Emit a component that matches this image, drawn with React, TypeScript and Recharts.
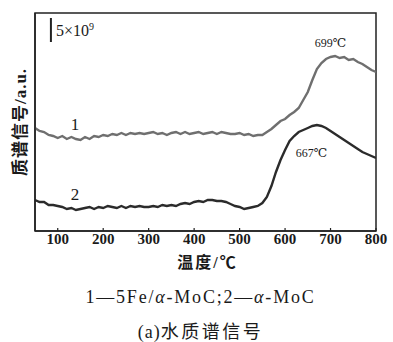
import React from "react"
import { LineChart, Line, XAxis, YAxis, ReferenceArea, ReferenceLine, ReferenceDot } from "recharts"

// temperature grid, °C
const temps = [
  50, 60, 70, 80, 90, 100, 110, 120, 130, 140, 150, 160, 170, 180, 190, 200, 210, 220, 230, 240,
  250, 260, 270, 280, 290, 300, 310, 320, 330, 340, 350, 360, 370, 380, 390, 400, 410, 420, 430, 440,
  450, 460, 470, 480, 490, 500, 510, 520, 530, 540, 550, 560, 570, 580, 590, 600, 610, 620, 630, 640,
  650, 660, 670, 680, 690, 700, 710, 720, 730, 740, 750, 760, 770, 780, 790, 800,
]

// curve 1: 5Fe/α-MoC (a.u.)
const fe = [
  103, 100, 99, 96, 95, 93, 95, 92, 94, 92, 91, 94, 92, 95, 94, 96, 95, 97, 96, 98,
  96, 98, 97, 98, 97, 98, 99, 97, 98, 96, 98, 99, 97, 99, 97, 98, 99, 97, 98, 99,
  97, 99, 98, 97, 97, 98, 96, 97, 95, 96, 96, 99, 102, 106, 110, 112, 116, 119, 123, 131,
  139, 151, 162, 168, 172, 174, 175, 173, 174, 171, 172, 169, 167, 164, 161, 159,
]

// curve 2: α-MoC (a.u.)
const moc = [
  31, 29, 29, 26, 26, 25, 24, 22, 23, 21, 22, 23, 24, 22, 24, 23, 25, 24, 23, 25,
  23, 25, 24, 25, 24, 24, 25, 24, 26, 25, 26, 25, 27, 28, 27, 29, 30, 29, 31, 31,
  30, 30, 29, 27, 25, 24, 22, 23, 24, 25, 28, 34, 45, 59, 71, 81, 90, 95, 99, 101,
  103, 105, 106, 105, 103, 100, 97, 94, 91, 88, 85, 82, 79, 77, 75, 73,
]

const xTicks = [100, 200, 300, 400, 500, 600, 700, 800]

const data = temps.map((t, i) => ({ t, fe: fe[i], moc: moc[i] }))

const serif = "'Liberation Serif', 'DejaVu Serif', serif"
const cjk = "'Liberation Serif', 'Noto Sans CJK SC', serif"

const XTick = ({ x, y, payload }: any) => (
  <g>
    <line x1={x} x2={x} y1={y} y2={y - 3} stroke="#222" strokeWidth={1.2} />
    <text x={x} y={y + 13} textAnchor="middle" fontFamily={serif} fontSize={15} fontWeight={600} fill="#1a1a1a">
      {payload.value}
    </text>
  </g>
)

const XTitle = ({ viewBox }: any) => {
  const cx = viewBox.x + viewBox.width / 2
  const y = viewBox.y
  return (
    <g>
      <text x={cx + 2} y={y + 37} textAnchor="middle" fontFamily={cjk} fontSize={16} fontWeight={700} letterSpacing={2} fill="#1a1a1a">
        温度/℃
      </text>
      <text x={cx - 5} y={y + 72} textAnchor="middle" fontFamily={cjk} fontSize={18} letterSpacing={1.8} fill="#1a1a1a">
        1—5Fe/<tspan fontStyle="italic">α</tspan>-MoC;2—<tspan fontStyle="italic">α</tspan>-MoC
      </text>
      <text x={cx - 5} y={y + 107} textAnchor="middle" fontFamily={cjk} fontSize={18} fill="#1a1a1a">
        <tspan letterSpacing={1}>(a)</tspan>
        <tspan letterSpacing={2.5}>水质谱信号</tspan>
      </text>
    </g>
  )
}

const YTitle = ({ viewBox }: any) => {
  const x = viewBox.x + 20
  const y = viewBox.y + viewBox.height / 2
  return (
    <text
      x={x}
      y={y}
      transform={`rotate(-90 ${x} ${y})`}
      textAnchor="middle"
      dominantBaseline="central"
      fontFamily={cjk}
      fontSize={17}
      fontWeight={700}
      letterSpacing={1}
      fill="#1a1a1a"
    >
      质谱信号/a.u.
    </text>
  )
}

const note = (txt: string, size: number, anchor: "start" | "middle" = "middle") => (props: any) => {
  const vb = props.viewBox
  const x = vb.cx ?? vb.x + (vb.width || 0) / 2
  const y = vb.cy ?? vb.y + (vb.height || 0) / 2
  return (
    <text x={x} y={y} textAnchor={anchor} fontFamily={serif} fontSize={size} fill="#1a1a1a">
      {txt}
    </text>
  )
}

const ScaleText = (props: any) => {
  const vb = props.viewBox
  const x = vb.cx ?? vb.x + (vb.width || 0) / 2
  const y = vb.cy ?? vb.y + (vb.height || 0) / 2
  return (
    <text x={x} y={y} fontFamily={serif} fontSize={16} fill="#1a1a1a">
      5×10<tspan dy={-6} fontSize={10}>9</tspan>
    </text>
  )
}

export default function App() {
  return (
    <div style={{ position: "absolute", left: 0, top: 0, width: 393, height: 342, background: "#fff" }}>
      <LineChart width={393} height={342} data={data} margin={{ top: 13, right: 17, bottom: 0, left: 0 }}>
        <XAxis
          dataKey="t"
          type="number"
          domain={[50, 800]}
          ticks={xTicks}
          allowDataOverflow
          tickSize={0}
          tickMargin={0}
          tickLine={false}
          tick={<XTick />}
          axisLine={{ stroke: "#222", strokeWidth: 1.5 }}
          height={111}
          label={<XTitle />}
        />
        <YAxis
          type="number"
          domain={[0, 218]}
          width={35}
          tick={false}
          tickLine={false}
          axisLine={{ stroke: "#222", strokeWidth: 1.5 }}
          label={<YTitle />}
        />
        <ReferenceArea x1={50} x2={800} y1={0} y2={218} fill="none" stroke="#222" strokeWidth={1.5} />
        <Line dataKey="fe" stroke="#6f6f6f" strokeWidth={2.4} dot={false} isAnimationActive={false} />
        <Line dataKey="moc" stroke="#2b2b2b" strokeWidth={2.4} dot={false} isAnimationActive={false} />
        <ReferenceLine segment={[{ x: 85, y: 189 }, { x: 85, y: 213 }]} stroke="#222" strokeWidth={2} />
        <ReferenceDot x={96} y={195} r={0} stroke="none" label={<ScaleText />} />
        <ReferenceDot x={138} y={101} r={0} stroke="none" label={note("1", 17)} />
        <ReferenceDot x={138} y={31} r={0} stroke="none" label={note("2", 17)} />
        <ReferenceDot x={700} y={184} r={0} stroke="none" label={note("699℃", 12)} />
        <ReferenceDot x={658} y={74} r={0} stroke="none" label={note("667℃", 12)} />
      </LineChart>
    </div>
  )
}
